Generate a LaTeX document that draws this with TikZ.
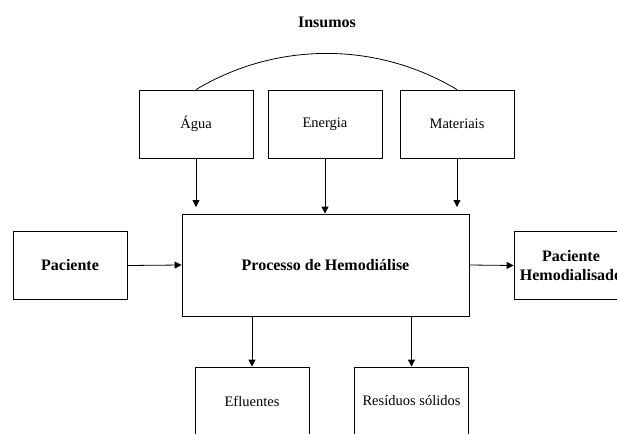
\documentclass[tikz,border=0pt]{standalone}
\usepackage{fontspec}
\setmainfont{Liberation Serif}
\usetikzlibrary{arrows.meta}

\begin{document}
\begin{tikzpicture}[
					x=1pt, y=1pt,
					every node/.style={draw, line width=0.8pt, minimum width=114pt, minimum height=68pt, align=center, font=\fontsize{14.5}{18}\selectfont},
					bold/.style={font=\fontsize{16}{18.5}\selectfont\bfseries},
					arr/.style={line width=0.8pt, -{Triangle[length=7pt,width=7pt]}}
				]
				\clip (0,0) rectangle (617,-433);
				\node[draw=none, minimum size=0pt, bold] (ins) at (327,-22) {Insumos};
				\node (agua) at (196,-124) {Água};
				\node (ener) at (325,-124) {Energia};
				\node (mat) at (457,-124) {Materiais};
				\node[bold, minimum width=287pt, minimum height=102pt] (proc) at (325.5,-265) {Processo de Hemodiálise};
				\node[bold] (pac) at (70,-265.5) {Paciente};
				\node[bold] (hemo) at (571,-265.5) {Paciente\\Hemodialisado};
				\node (eflu) at (252,-401) {Efluentes};
				\node (res) at (411.5,-401) {Resíduos sólidos};
				\coordinate (ina) at (196,-207);
				\draw[line width=0.8pt] (agua.north) to[out=31, in=149, looseness=0.92] (mat.north);
				\draw[arr] (agua.south) -- (ina);
				\draw[arr] (ener.south) -- (proc.north -| ener.south);
				\draw[arr] (mat.south) -- (ina -| mat.south);
				\draw[arr] (pac.east) -- (proc.west);
				\draw[arr] (proc.east) -- (hemo.west);
				\draw[arr] (proc.south -| eflu.north) -- (eflu.north);
				\draw[arr] (proc.south -| res.north) -- (res.north);
			\end{tikzpicture}
\end{document}
